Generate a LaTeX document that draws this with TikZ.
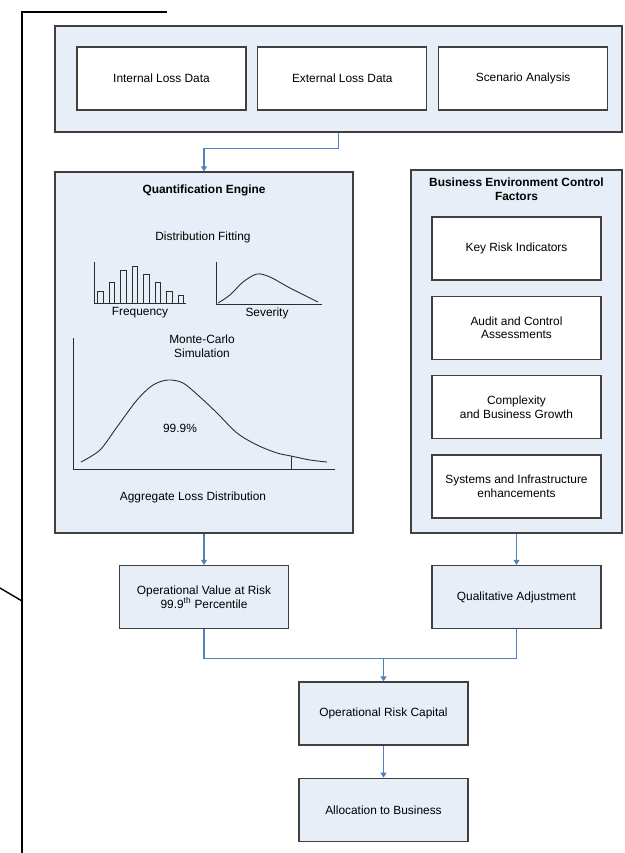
\documentclass[tikz,border=0pt]{standalone}
\usepackage{fontspec}
\setmainfont{Liberation Sans}
\usetikzlibrary{arrows.meta, positioning}

\definecolor{boxfill}{RGB}{232,238,247}
\definecolor{boxline}{RGB}{64,64,64}
\definecolor{linkblue}{RGB}{79,129,189}
\definecolor{axisgrey}{RGB}{45,45,45}

\begin{document}
\fontsize{11.9}{13.8}\selectfont
\begin{tikzpicture}[
    x=1pt, y=-1pt,
    group/.style={rectangle, draw=boxline, line width=1.3pt, fill=boxfill, inner sep=0pt},
    srcbox/.style={rectangle, draw=boxline, line width=1.3pt, fill=white, minimum width=169pt, minimum height=63pt, align=center, inner sep=0pt},
    stage/.style={srcbox, fill=boxfill},
    title/.style={font=\bfseries, align=center},
    chart/.style={draw=axisgrey, line width=0.9pt},
    link/.style={draw=linkblue, line width=1.1pt},
    arrow/.style={link, -{Triangle[width=6pt, length=5pt]}}
]
\useasboundingbox (0,0) rectangle (624,853);

% Scan marks
\draw[line width=2.2pt] (167,12) -- (22,12) -- (22,853);
\draw[line width=1.4pt] (0,588) -- (22,601);

% Loss data sources
\node[group, minimum width=567pt, minimum height=106pt] (sources) at (338.5,79) {};
\node[srcbox] (internal) at (161.5,78.5) {Internal Loss Data};
\node[srcbox, right=10.5pt of internal] (external) {External Loss Data};
\node[srcbox, right=10.5pt of external] (scenario) {Scenario Analysis};

% Quantification engine
\node[group, minimum width=298pt, minimum height=361pt] (engine) at (204,352.5) {};
\node[title] (enginetitle) at (204,190) {Quantification Engine};
\node (fitting) at (203,237) {Distribution Fitting};
\node (freqlabel) at (140,313) {Frequency};
\node (sevlabel) at (267,313) {Severity};
\node[align=center] (montecarlo) at (202,346) {Monte-Carlo\\Simulation};
\node (quantile) at (180,428) {99.9\%};
\node (aggregate) at (193,497) {Aggregate Loss Distribution};

% Frequency chart
\draw[chart] (94,262) -- (94,303) -- (186,303);
\foreach \i/\top in {0/291, 1/282, 2/270, 3/266, 4/274, 5/282, 6/291, 7/295}
    \draw[chart] (97.5+11.5*\i,303) rectangle ++(5.5,\top-303);

% Severity chart
\draw[chart] (216,262) -- (216,304) -- (322,304);
\draw[chart] plot[smooth] coordinates {(218,303) (230,295) (243,282) (257,274) (270,277) (290,288) (318,302)};

% Aggregate loss chart
\draw[chart] (73,338) -- (73,469) -- (335,469);
\draw[chart] plot[smooth] coordinates {(81,462) (100,450) (117,427) (137,400) (153,385) (168,380) (183,383)
    (200,397) (217,413) (237,433) (257,445) (277,453) (291,456) (310,460) (327,462)};
\draw[chart] (291,456) -- (291,469);

% Business environment control factors
\node[group, minimum width=211pt, minimum height=363pt] (factors) at (516.5,351.5) {};
\node[title] (factorstitle) at (516.5,189) {Business Environment Control\\Factors};
\node[srcbox] (indicators) at (516.5,248.5) {Key Risk Indicators};
\node[srcbox, below=15pt of indicators] (audit) {Audit and Control\\Assessments};
\node[srcbox, below=15pt of audit] (growth) {Complexity\\and Business Growth};
\node[srcbox, below=15pt of growth] (systems) {Systems and Infrastructure\\enhancements};

% Results
\node[stage] (opvar) at (204,597) {Operational Value at Risk\\99.9\textsuperscript{th} Percentile};
\node[stage] (qualadj) at (516.5,597) {Qualitative Adjustment};
\node[stage] (capital) at (383.5,713.5) {Operational Risk Capital};
\node[stage, below=32pt of capital] (allocation) {Allocation to Business};

% Arrows
\draw[arrow] (sources.south) -- ++(0,16) -| (engine.north);
\draw[arrow] (engine) -- (opvar);
\draw[arrow] (factors) -- (qualadj);
\draw[link] (opvar.south) -- ++(0,29) coordinate (merge) -| (qualadj.south);
\draw[arrow] (merge -| capital.north) -- (capital.north);
\draw[arrow] (capital) -- (allocation);

\end{tikzpicture}
\end{document}
